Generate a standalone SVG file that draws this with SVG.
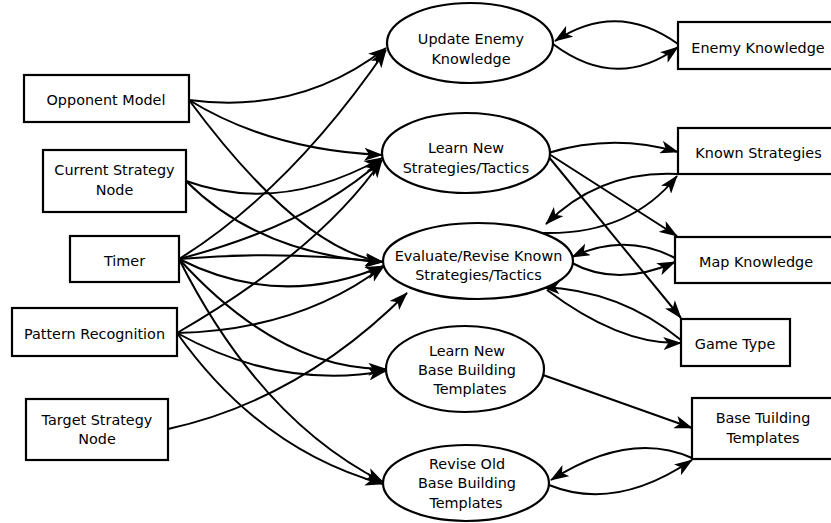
<svg xmlns="http://www.w3.org/2000/svg" width="831" height="523" viewBox="0 0 831 523">
  <style>
    .box { fill: #ffffff; stroke: #000000; stroke-width: 2.2; }
    .lbl { font-family: "DejaVu Sans", "Liberation Sans", sans-serif; font-size: 14.4px; fill: #000000; text-anchor: middle; }
    .edge { fill: none; stroke: #000000; stroke-width: 2; marker-end: url(#arrow); }
  </style>
  <defs>
    <marker id="arrow" viewBox="0 0 20 14" refX="19" refY="7" markerWidth="19" markerHeight="13" markerUnits="userSpaceOnUse" orient="auto">
      <path d="M20,7 L0,0 L5,7 L0,14 Z" fill="#000000"/>
    </marker>
  </defs>
  <rect width="831" height="523" fill="#ffffff"/>

  <g id="connectors">
    <!-- inputs on the left -->
    <path class="edge" d="M189,100 Q300,115 386,48"/>
    <path class="edge" d="M189,100 Q270,150 382,155"/>
    <path class="edge" d="M189,100 Q300,250 383,262"/>
    <path class="edge" d="M186,181 Q280,215 382,158"/>
    <path class="edge" d="M186,181 Q260,255 383,262"/>
    <path class="edge" d="M179,259 Q290,190 386,50"/>
    <path class="edge" d="M179,259 Q310,225 382,160"/>
    <path class="edge" d="M179,259 Q280,250 383,262"/>
    <path class="edge" d="M179,259 Q280,310 383,266"/>
    <path class="edge" d="M179,259 Q280,370 386,369"/>
    <path class="edge" d="M179,259 Q260,420 383,482"/>
    <path class="edge" d="M177,333 Q320,250 382,160"/>
    <path class="edge" d="M177,333 Q300,330 384,266"/>
    <path class="edge" d="M177,333 Q280,390 386,371"/>
    <path class="edge" d="M177,333 Q260,450 383,484"/>
    <path class="edge" d="M168,429 Q300,400 407,293"/>
    <!-- knowledge stores on the right -->
    <path class="edge" d="M553,44 Q617,92 678,47"/>
    <path class="edge" d="M678,44 Q617,0 555,41"/>
    <path class="edge" d="M548,153 Q613,133 678,152"/>
    <path class="edge" d="M549,154 L677,236"/>
    <path class="edge" d="M548,156 L681,318"/>
    <path class="edge" d="M678,174 Q600,170 546,224"/>
    <path class="edge" d="M543,233 Q630,235 677,176"/>
    <path class="edge" d="M675,258 Q625,232 572,257"/>
    <path class="edge" d="M570,262 Q617,288 675,262"/>
    <path class="edge" d="M681,340 Q620,290 542,287"/>
    <path class="edge" d="M547,290 Q620,345 681,343"/>
    <path class="edge" d="M543,375 L692,428"/>
    <path class="edge" d="M692,458 Q630,430 551,480"/>
    <path class="edge" d="M549,485 Q615,512 692,460"/>
  </g>

  <g id="opponent-model">
    <rect class="box" x="24" y="75" width="165" height="47"/>
    <text class="lbl" x="106" y="105">Opponent Model</text>
  </g>
  <g id="current-strategy-node">
    <rect class="box" x="43" y="150" width="143" height="62"/>
    <text class="lbl" x="114.5" y="175">Current Strategy</text>
    <text class="lbl" x="114.5" y="195">Node</text>
  </g>
  <g id="timer">
    <rect class="box" x="70" y="236" width="109" height="46"/>
    <text class="lbl" x="124.5" y="266">Timer</text>
  </g>
  <g id="pattern-recognition">
    <rect class="box" x="12" y="308" width="165" height="48"/>
    <text class="lbl" x="94.5" y="339">Pattern Recognition</text>
  </g>
  <g id="target-strategy-node">
    <rect class="box" x="26" y="399" width="142" height="61"/>
    <text class="lbl" x="97" y="425">Target Strategy</text>
    <text class="lbl" x="97" y="444">Node</text>
  </g>

  <g id="update-enemy-knowledge">
    <ellipse class="box" cx="470" cy="43" rx="83" ry="40"/>
    <text class="lbl" x="471" y="44">Update Enemy</text>
    <text class="lbl" x="471" y="64">Knowledge</text>
  </g>
  <g id="learn-new-strategies">
    <ellipse class="box" cx="466" cy="153" rx="84" ry="40"/>
    <text class="lbl" x="466" y="153">Learn New</text>
    <text class="lbl" x="466" y="173">Strategies/Tactics</text>
  </g>
  <g id="evaluate-revise">
    <ellipse class="box" cx="478" cy="261" rx="95" ry="38"/>
    <text class="lbl" x="478.5" y="261">Evaluate/Revise Known</text>
    <text class="lbl" x="478.5" y="280">Strategies/Tactics</text>
  </g>
  <g id="learn-new-templates">
    <ellipse class="box" cx="465" cy="369" rx="79" ry="43"/>
    <text class="lbl" x="467" y="356">Learn New</text>
    <text class="lbl" x="467" y="375">Base Building</text>
    <text class="lbl" x="470" y="394">Templates</text>
  </g>
  <g id="revise-old-templates">
    <ellipse class="box" cx="466" cy="483" rx="83" ry="38"/>
    <text class="lbl" x="467" y="469">Revise Old</text>
    <text class="lbl" x="467" y="488">Base Building</text>
    <text class="lbl" x="466" y="508">Templates</text>
  </g>

  <g id="enemy-knowledge">
    <rect class="box" x="678" y="22" width="160" height="47"/>
    <text class="lbl" x="758" y="53">Enemy Knowledge</text>
  </g>
  <g id="known-strategies">
    <rect class="box" x="678" y="128" width="160" height="46"/>
    <text class="lbl" x="758.5" y="158">Known Strategies</text>
  </g>
  <g id="map-knowledge">
    <rect class="box" x="675" y="237" width="163" height="46"/>
    <text class="lbl" x="756" y="267">Map Knowledge</text>
  </g>
  <g id="game-type">
    <rect class="box" x="681" y="319" width="109" height="47"/>
    <text class="lbl" x="735" y="349">Game Type</text>
  </g>
  <g id="base-building-templates">
    <rect class="box" x="692" y="398" width="146" height="61"/>
    <text class="lbl" x="763" y="423">Base Tuilding</text>
    <text class="lbl" x="763" y="443">Templates</text>
  </g>
</svg>
